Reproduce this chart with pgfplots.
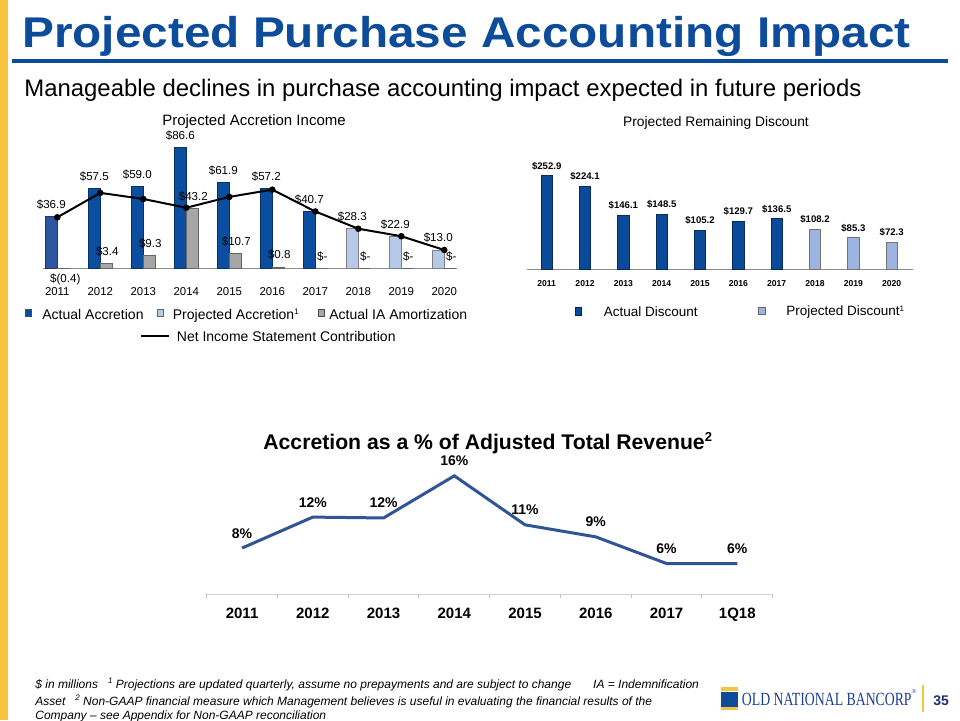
\documentclass[border=0pt]{standalone}
\usepackage{fontspec}
\setmainfont{Liberation Sans}
\newfontfamily\logofont{Liberation Serif}
\usepackage{pgfplots}
\pgfplotsset{compat=1.18}
\definecolor{titleblue}{HTML}{0C4C9B}
\definecolor{accblue}{HTML}{0B4D9E}
\definecolor{accblueA}{HTML}{2E54A0}
\definecolor{projblue}{HTML}{B7C9E8}
\definecolor{iagray}{HTML}{A6A6A6}
\definecolor{discblue}{HTML}{0B4A99}
\definecolor{discproj}{HTML}{9DB4E0}
\definecolor{lineblue}{HTML}{2F5597}
\definecolor{goldbar}{HTML}{F7C43D}
\definecolor{logoblue}{HTML}{1B3F94}
\definecolor{navy}{HTML}{1F2F6F}
\newcommand{\fs}[1]{\fontsize{#1}{#1}\selectfont}
\newcommand{\supr}[1]{{\fs{4pt}\raisebox{2.2pt}{#1}}}
\begin{document}
\begin{tikzpicture}[x=0.5pt,y=-0.5pt]
\useasboundingbox (0,0) rectangle (960,720);
\fill[white] (0,0) rectangle (960,720);
\fill[goldbar] (0,0) rectangle (8.3,720);
% title
\node[anchor=base west, inner sep=0, text=titleblue] at (22,47.7) {\scalebox{1.11}[1]{\fs{21.5pt}\bfseries Projected Purchase Accounting Impact}};
\fill[titleblue] (11.7,59.3) rectangle (948,63.3);
\node[anchor=base west, inner sep=0] at (24,96) {\fs{11.95pt}Manageable declines in purchase accounting impact expected in future periods};
% chart titles
\node[anchor=base, inner sep=0, font=\fs{7.5pt}] at (254,125.5) {Projected Accretion Income};
\node[anchor=base, inner sep=0, font=\fs{6.9pt}] at (716,126.7) {Projected Remaining Discount};

% ---------- left chart ----------
\begin{axis}[
  at={(21.5pt,-137.5pt)}, anchor=south west,
  scale only axis, width=207pt, height=69.5pt,
  xmin=-0.333, xmax=9.295, ymin=-5, ymax=95,
  axis line style={draw=none}, tick style={draw=none},
  ytick=\empty, xtick={0,...,9},
  xticklabels={2011,2012,2013,2014,2015,2016,2017,2018,2019,2020},
  x tick label style={font=\fs{5.7pt}, anchor=base, yshift=-10pt},
  clip=false,
]
\draw[black!45, line width=0.5pt] (axis cs:-0.333,0) -- (axis cs:9.295,0);
\addplot[ybar, bar width=6pt, bar shift=-3pt, fill=accblueA, draw=accblueA!65!black, line width=0.3pt,
  point meta=explicit symbolic, nodes near coords,
  every node near coord/.append style={font=\fs{5.8pt}, anchor=base, yshift=4pt, xshift=-3pt, inner sep=0pt}]
  coordinates {(0,36.9) [\$36.9]};
\addplot[ybar, bar width=6pt, bar shift=-3pt, fill=accblue, draw=accblue!65!black, line width=0.3pt,
  point meta=explicit symbolic, nodes near coords,
  every node near coord/.append style={font=\fs{5.8pt}, anchor=base, yshift=4pt, xshift=-3pt, inner sep=0pt}]
  coordinates {(1,57.5) [\$57.5] (2,59.0) [\$59.0] (3,86.6) [\$86.6] (4,61.9) [\$61.9] (5,57.2) [\$57.2] (6,40.7) [\$40.7]};
\addplot[ybar, bar width=6pt, bar shift=-3pt, fill=projblue, draw=black!50, line width=0.3pt,
  point meta=explicit symbolic, nodes near coords,
  every node near coord/.append style={font=\fs{5.8pt}, anchor=base, yshift=4pt, xshift=-3pt, inner sep=0pt}]
  coordinates {(7,28.3) [\$28.3] (8,22.9) [\$22.9] (9,13.0) [\$13.0]};
\addplot[ybar, bar width=6pt, bar shift=3pt, fill=iagray, draw=black!60, line width=0.3pt,
  point meta=explicit symbolic, nodes near coords,
  every node near coord/.style={font=\fs{5.8pt}, anchor=base, yshift=-7pt, xshift=4pt, inner sep=0pt}]
  coordinates {(0,-0.4) [\$(0.4)]};
\addplot[ybar, bar width=6pt, bar shift=3pt, fill=iagray, draw=black!60, line width=0.3pt,
  point meta=explicit symbolic, nodes near coords,
  every node near coord/.append style={font=\fs{5.8pt}, anchor=base, yshift=4pt, xshift=3.5pt, inner sep=0pt}]
  coordinates {(1,3.4) [\$3.4] (2,9.3) [\$9.3] (3,43.2) [\$43.2] (4,10.7) [\$10.7] (5,0.8) [\$0.8] (6,0) [\$-] (7,0) [\$-] (8,0) [\$-] (9,0) [\$-]};
\addplot[black, line width=1pt, mark=*, mark size=1.1pt]
  coordinates {(0,36.5) (1,54.1) (2,49.7) (3,43.4) (4,51.2) (5,56.4) (6,40.7) (7,28.3) (8,22.9) (9,13.0)};
\end{axis}

% left legend
\filldraw[fill=accblue, draw=black!70, line width=0.4pt] (25.5,309.5) rectangle (31,316);
\node[anchor=base west, inner sep=0, font=\fs{7pt}] at (42,319) {Actual Accretion};
\filldraw[fill=projblue, draw=black!60, line width=0.4pt] (157.5,309.5) rectangle (163,316);
\node[anchor=base west, inner sep=0, font=\fs{7pt}] at (172.5,319) {Projected Accretion\supr{1}};
\filldraw[fill=iagray, draw=black!70, line width=0.4pt] (318.5,309.5) rectangle (324,316);
\node[anchor=base west, inner sep=0, font=\fs{7pt}] at (329,319) {Actual IA Amortization};
\draw[black, line width=0.9pt] (141,336) -- (169.3,336);
\node[anchor=base west, inner sep=0, font=\fs{7pt}] at (176.5,341) {Net Income Statement Contribution};

% ---------- right chart ----------
\begin{axis}[
  at={(263.5pt,-134.5pt)}, anchor=south west,
  scale only axis, width=193pt, height=49.8pt,
  xmin=-0.514, xmax=9.556, ymin=0, ymax=270,
  axis line style={draw=none}, tick style={draw=none},
  ytick=\empty, xtick={0,...,9},
  xticklabels={2011,2012,2013,2014,2015,2016,2017,2018,2019,2020},
  x tick label style={font=\fs{4.3pt}\bfseries, anchor=base, yshift=-8.75pt},
  clip=false,
]
\draw[black!45, line width=0.5pt] (axis cs:-0.514,0) -- (axis cs:9.556,0);
\addplot[ybar, bar width=5.65pt, fill=discblue, draw=discblue!60!black, line width=0.3pt,
  point meta=explicit symbolic, nodes near coords,
  every node near coord/.append style={font=\fs{4.8pt}\bfseries, anchor=base, yshift=3.25pt, inner sep=0pt}]
  coordinates {(0,252.9) [\$252.9] (1,224.1) [\$224.1] (2,146.1) [\$146.1] (3,148.5) [\$148.5] (4,105.2) [\$105.2] (5,129.7) [\$129.7] (6,136.5) [\$136.5]};
\addplot[ybar, bar width=5.65pt, fill=discproj, draw=black!55, line width=0.3pt,
  point meta=explicit symbolic, nodes near coords,
  every node near coord/.append style={font=\fs{4.8pt}\bfseries, anchor=base, yshift=3.25pt, inner sep=0pt}]
  coordinates {(7,108.2) [\$108.2] (8,85.3) [\$85.3] (9,72.3) [\$72.3]};
\end{axis}

% right legend
\filldraw[fill=discblue, draw=discblue!50!black, line width=0.4pt] (575,307) rectangle (581.7,315.5);
\node[anchor=base west, inner sep=0, font=\fs{6.75pt}] at (603.5,316) {Actual Discount};
\filldraw[fill=discproj, draw=black!60, line width=0.4pt] (758.3,307) rectangle (765,314.5);
\node[anchor=base west, inner sep=0, font=\fs{6.75pt}] at (786,315.5) {Projected Discount\supr{1}};

% ---------- bottom chart ----------
\node[anchor=base west, inner sep=0, font=\fs{10.6pt}\bfseries] at (263,449) {Accretion as a \% of Adjusted Total Revenue{\fs{6.5pt}\raisebox{4pt}{2}}};
\begin{axis}[
  at={(103.35pt,-297.15pt)}, anchor=south west,
  scale only axis, width=283pt, height=66.55pt,
  xmin=-0.5, xmax=7.5, ymin=2.52, ymax=18,
  axis x line=bottom, axis y line=none,
  x axis line style={-, draw=black!18, line width=0.75pt},
  xtick={-0.5,0.5,...,7.5},
  xticklabels={2011,2012,2013,2014,2015,2016,2017,1Q18},
  x tick label as interval,
  xtick style={draw=black!25, line width=0.5pt},
  tick align=outside, major tick length=2pt,
  x tick label style={font=\fs{7.5pt}\bfseries, anchor=base, yshift=-10pt},
  ytick=\empty,
  clip=false,
]
\addplot[lineblue, line width=1.5pt, point meta=explicit symbolic, nodes near coords,
  every node near coord/.append style={font=\fs{7pt}\bfseries, text=black, anchor=base, yshift=5pt, inner sep=0pt}]
  coordinates {(0,7.9) [8\%] (1,11.5) [12\%] (2,11.4) [12\%] (3,16.3) [16\%] (4,10.6) [11\%] (5,9.2) [9\%] (6,6.1) [6\%] (7,6.1) [6\%]};
\end{axis}

% footer
\node[anchor=base west, inner sep=0, font=\fs{6pt}\itshape] at (35,688) {\$ in millions\hspace{5pt}\supr{1} Projections are updated quarterly, assume no prepayments and are subject to change\hspace{11pt}IA = Indemnification};
\node[anchor=base west, inner sep=0, font=\fs{6pt}\itshape] at (35,705) {Asset\hspace{5pt}\supr{2} Non-GAAP financial measure which Management believes is useful in evaluating the financial results of the};
\node[anchor=base west, inner sep=0, font=\fs{6pt}\itshape] at (35,719) {Company -- see Appendix for Non-GAAP reconciliation};

% logo
\fill[goldbar] (721,686.7) rectangle (738.3,690.7);
\fill[titleblue] (721,691.7) rectangle (738.3,706.7);
\fill[goldbar] (721,707) rectangle (738.3,710);
\node[anchor=base west, inner sep=0, text=logoblue] at (741.5,705) {\scalebox{0.74}[1]{\logofont\fs{9.3pt}OLD NATIONAL BANCORP}{\logofont\fs{3pt}\raisebox{6pt}{®}}};
\draw[goldbar, line width=0.8pt] (922.7,685) -- (922.7,711.7);
\node[anchor=base west, inner sep=0, text=navy, font=\fs{7pt}\bfseries] at (933,705) {35};
\end{tikzpicture}
\end{document}
